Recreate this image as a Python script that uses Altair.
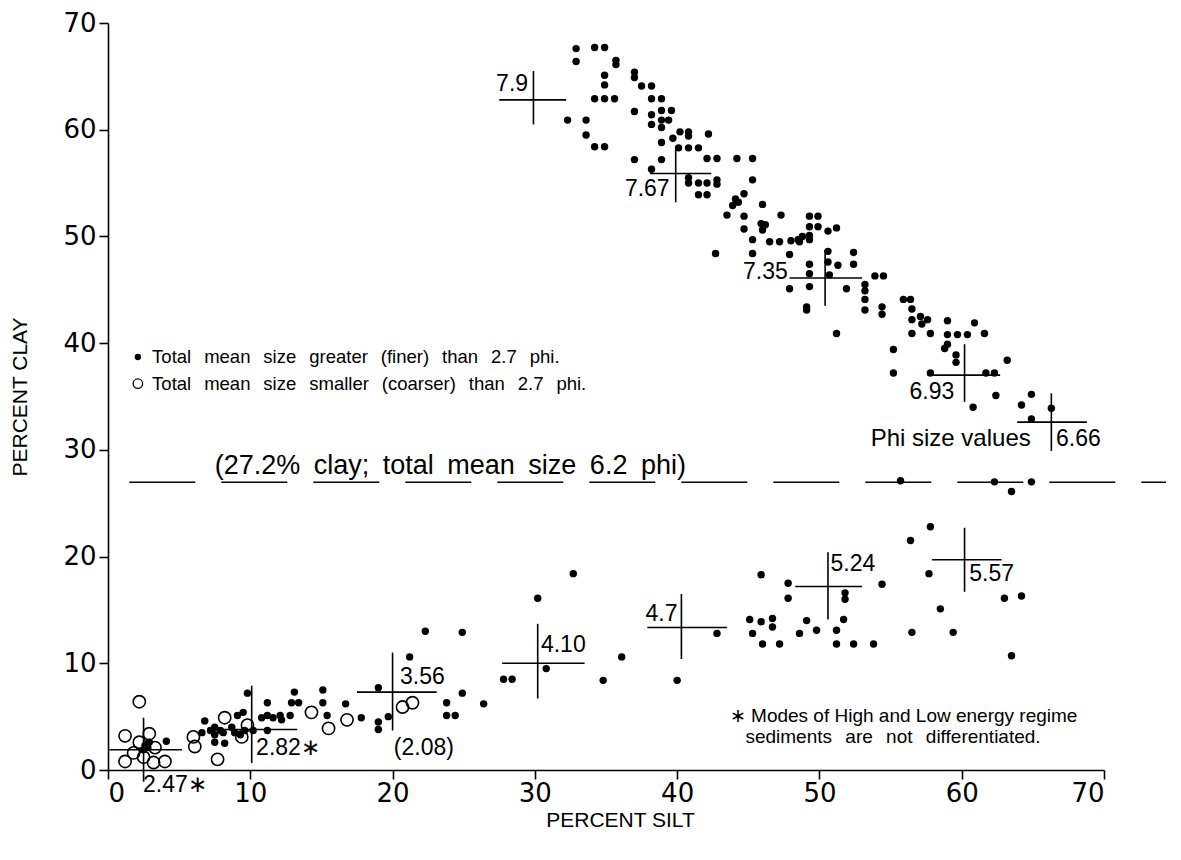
import altair as alt
import pandas as pd

FONT = "Liberation Sans"
TICKFONT = "DejaVu Sans"

# ---- data ----
filled_x = [32.9,34.2,34.9,32.9,35.7,35.7,34.9,34.9,37.0,37.0,37.5,38.2,34.2,34.9,35.6,38.2,38.9,37.0,38.2,38.9,
            39.6,38.2,38.9,38.9,39.4,32.3,33.6,33.6,34.2,34.9,40.2,40.8,40.8,42.2,39.7,38.9,40.1,40.8,41.5,38.9,
            37.0,38.2,40.8,40.8,41.5,42.1,42.8,42.8,41.5,42.1,
            42.1,42.8,44.2,45.3,45.3,44.7,44.1,43.9,44.3,46.0,43.5,44.7,47.3,45.9,46.2,46.0,44.7,49.3,49.9,49.3,
            49.9,50.6,51.2,45.3,46.5,47.2,48.0,48.5,48.8,49.3,49.3,48.6,42.7,45.3,47.9,50.6,52.4,49.3,50.6,51.3,
            52.4,49.3,50.7,53.9,54.5,47.9,49.3,51.9,53.2,53.2,53.2,53.2,54.4,54.4,49.1,49.1,55.9,56.4,51.2,56.5,
            56.5,57.1,57.2,57.6,59.0,60.9,56.5,57.8,59.0,59.7,60.4,61.6,55.2,58.8,59.0,59.6,59.6,63.2,55.2,57.8,
            61.7,62.3,62.4,60.8,64.2,64.9,66.3,64.9,55.7,62.3,64.9,63.5,
            2.6,2.8,2.5,2.9,4.1,6.8,6.6,7.2,7.5,7.9,7.5,8.1,7.5,8.2,8.7,9.1,9.5,8.9,9.3,9.6,
            9.8,10.2,11.2,11.2,10.8,11.6,11.2,12.1,12.2,12.9,13.4,13.1,12.8,15.1,15.1,15.4,16.7,17.8,19.0,19.0,
            19.0,19.7,21.2,24.9,23.8,23.8,24.4,22.3,24.9,26.4,27.8,28.4,30.2,32.7,30.8,36.1,34.8,40.0,42.8,45.9,
            45.1,45.9,46.7,46.7,45.3,46.0,47.2,47.8,47.8,49.1,49.8,48.6,51.2,51.2,51.7,51.8,51.8,52.4,53.8,54.4,
            56.4,57.8,57.7,56.5,58.5,59.4,63.0,64.2,63.5]
filled_y = [67.6,67.7,67.7,66.4,66.5,66.1,65.1,64.2,65.4,64.9,64.1,64.1,62.9,62.9,62.9,62.9,62.9,61.7,61.4,61.8,
            61.8,60.5,60.9,60.2,60.9,60.9,60.9,59.5,58.4,58.4,59.8,59.8,59.4,59.6,59.2,58.8,58.3,58.3,58.3,57.2,
            57.2,56.3,55.5,55.0,55.0,55.0,55.3,54.9,53.9,53.9,
            57.3,57.3,57.3,57.3,55.3,54.0,53.5,52.9,53.2,53.0,52.0,51.9,52.0,51.2,51.1,50.6,50.7,51.9,51.9,50.9,
            50.9,50.5,50.8,49.7,49.5,49.5,49.6,49.7,50.0,49.7,50.1,49.5,48.4,48.4,48.3,48.6,48.5,47.4,47.6,47.3,
            47.4,46.5,46.4,46.3,46.3,45.1,45.3,45.1,45.5,44.9,44.1,43.1,43.4,42.7,43.4,43.1,44.1,44.1,40.9,43.2,
            42.2,42.5,41.8,42.2,42.1,41.9,40.9,40.9,40.8,40.8,40.8,40.9,39.4,39.5,39.9,38.9,38.2,38.4,37.2,37.2,
            37.2,37.2,35.1,34.0,34.2,35.2,33.9,32.9,27.1,27.0,27.0,26.1,
            2.3,2.1,1.9,2.6,2.7,4.6,3.5,3.7,4.0,3.7,3.3,3.5,2.6,2.5,4.0,5.1,5.4,3.5,3.3,3.7,
            7.2,3.7,6.3,5.1,4.9,4.9,3.7,5.1,4.7,6.3,6.3,7.3,5.1,7.5,6.3,5.1,6.2,4.9,7.7,4.5,
            3.8,5.0,10.6,7.2,6.3,5.1,5.1,13.0,12.9,6.2,8.5,8.5,16.1,18.4,9.5,10.6,8.4,8.4,12.8,18.3,
            14.1,13.9,14.2,13.4,12.8,11.8,11.8,17.5,16.1,14.0,13.1,12.8,13.1,11.8,14.1,16.6,16.0,11.8,11.8,17.4,
            21.5,22.8,18.4,12.9,15.1,12.9,16.1,16.3,10.7]

open_x = [2.2,1.2,2.9,2.2,3.3,1.2,1.8,2.5,3.2,4.0,6.0,6.1,8.2,7.7,9.4,9.8,14.3,15.5,16.8,20.7,21.4]
open_y = [6.4,3.2,3.4,2.6,2.1,0.8,1.6,1.2,0.7,0.8,3.1,2.2,4.9,1.0,3.1,4.2,5.4,3.9,4.7,5.9,6.3]

# crosses (phi size values)
cross_cx = [29.9,39.9,50.4,60.2,66.3,2.5,10.1,20.0,30.2,40.3,50.6,60.2]
cross_cy = [62.8,55.9,46.1,37.0,32.6,1.9,3.8,7.3,10.0,13.35,17.2,19.7]
cross_x0 = [27.5,38.1,47.9,57.6,63.9,0.1,7.5,17.5,27.7,37.9,48.3,57.9]
cross_x1 = [32.2,42.4,53.0,62.7,68.8,5.2,13.3,23.1,33.5,43.5,53.0,62.8]
cross_y0 = [60.5,53.2,43.5,34.5,29.9,-1.1,0.65,3.7,6.7,10.4,14.1,16.7]
cross_y1 = [65.5,58.3,48.7,39.9,35.3,4.9,7.9,11.0,13.7,16.5,20.4,22.7]

phi_labels = ["7.9","7.67","7.35","6.93","6.66","2.47\u2217","2.82\u2217","3.56","(2.08)","4.10","4.7","5.24","5.57"]
phi_lx = [28.4,37.9,46.2,57.9,68.2,4.7,12.65,22.1,22.2,32.0,38.9,52.35,62.1]
phi_ly = [64.3,54.4,46.7,35.4,31.0,-1.4,2.05,8.7,2.05,11.7,14.6,19.3,18.4]

ticks = [0,10,20,30,40,50,60,70]

filled = pd.DataFrame({"silt": filled_x, "clay": filled_y})
opened = pd.DataFrame({"silt": open_x, "clay": open_y})
cross = pd.DataFrame({"cx": cross_cx, "cy": cross_cy, "x0": cross_x0, "x1": cross_x1,
                      "y0": cross_y0, "y1": cross_y1})
labels = pd.DataFrame({"t": phi_labels, "x": phi_lx, "y": phi_ly})

xs = alt.Scale(domain=[0, 70], nice=False, zero=False)
ys = alt.Scale(domain=[0, 70], nice=False, zero=False)

X = alt.X("silt:Q", scale=xs, title="PERCENT SILT",
          axis=alt.Axis(values=ticks, grid=False, domainColor="black", domainWidth=1.6,
                        tickColor="black", tickWidth=1.6, tickSize=9, labelFontSize=26,
                        labelFont=TICKFONT, labelColor="black", labelPadding=1,
                        titleFont=FONT, titleFontSize=21, titleFontWeight="normal",
                        titleColor="black", titlePadding=3, titleX=512))
Y = alt.Y("clay:Q", scale=ys, title="PERCENT CLAY",
          axis=alt.Axis(values=ticks, grid=False, domainColor="black", domainWidth=1.6,
                        tickColor="black", tickWidth=1.6, tickSize=9, labelFontSize=26,
                        labelFont=TICKFONT, labelColor="black", labelPadding=3,
                        titleFont=FONT, titleFontSize=21, titleFontWeight="normal",
                        titleColor="black", titlePadding=32))

pts_f = alt.Chart(filled).mark_circle(size=55, color="black", opacity=1).encode(x=X, y=Y)
pts_o = alt.Chart(opened).mark_point(shape="circle", size=150, color="black", filled=False,
                                     strokeWidth=1.6, opacity=1).encode(
    x=alt.X("silt:Q", scale=xs), y=alt.Y("clay:Q", scale=ys))

hrule = alt.Chart(cross).mark_rule(color="black", strokeWidth=1.6).encode(
    x=alt.X("x0:Q", scale=xs), x2="x1:Q", y=alt.Y("cy:Q", scale=ys))
vrule = alt.Chart(cross).mark_rule(color="black", strokeWidth=1.6).encode(
    x=alt.X("cx:Q", scale=xs), y=alt.Y("y0:Q", scale=ys), y2="y1:Q")

ltext = alt.Chart(labels).mark_text(font=FONT, fontSize=23, color="black").encode(
    x=alt.X("x:Q", scale=xs), y=alt.Y("y:Q", scale=ys), text="t:N")

# dashed reference line at 27% clay
dash_df = pd.DataFrame({"x0": [1.5], "x1": [75.2], "y": [26.97]})
dash = alt.Chart(dash_df).mark_rule(color="black", strokeWidth=1.6, strokeDash=[66, 26]).encode(
    x=alt.X("x0:Q", scale=xs), x2="x1:Q", y=alt.Y("y:Q", scale=ys))

EN = "\u2002"
WS = "\u2002\u2009"
notes = pd.DataFrame({
    "t": [EN.join(["(27.2%", "clay;", "total", "mean", "size", "6.2", "phi)"]), "Phi size values",
          WS.join(["Total", "mean", "size", "greater", "(finer)", "than", "2.7", "phi."]),
          WS.join(["Total", "mean", "size", "smaller", "(coarser)", "than", "2.7", "phi."]),
          "\u2217 Modes of High and Low energy regime",
          WS.join(["sediments", "are", "not", "differentiated."])],
    "x": [7.5, 53.6, 3.1, 3.1, 43.7, 44.8],
    "y": [28.5, 31.0, 38.7, 36.2, 5.1, 3.05],
    "s": [27, 24, 18.5, 18.5, 19, 19],
})
note_text = alt.Chart(notes).mark_text(font=FONT, color="black", align="left").encode(
    x=alt.X("x:Q", scale=xs), y=alt.Y("y:Q", scale=ys), text="t:N",
    size=alt.Size("s:Q", scale=None, legend=None))

leg_f = pd.DataFrame({"x": [2.1], "y": [38.7]})
leg_o = pd.DataFrame({"x": [2.1], "y": [36.2]})
leg1 = alt.Chart(leg_f).mark_circle(size=40, color="black", opacity=1).encode(
    x=alt.X("x:Q", scale=xs), y=alt.Y("y:Q", scale=ys))
leg2 = alt.Chart(leg_o).mark_point(shape="circle", size=90, color="black", filled=False,
                                   strokeWidth=1.3, opacity=1).encode(
    x=alt.X("x:Q", scale=xs), y=alt.Y("y:Q", scale=ys))

chart = alt.layer(pts_f, pts_o, hrule, vrule, ltext, dash, note_text, leg1, leg2).properties(
    width=996, height=747,
    autosize=alt.AutoSizeParams(type="none"),
    padding={"left": 100, "top": 15, "right": 62, "bottom": 70},
    view=alt.ViewBackground(stroke=None, strokeWidth=0),
).configure_view(stroke=None, strokeWidth=0).configure(background="white")

chart.save("out.html", embed_options={"renderer": "svg", "actions": False})
